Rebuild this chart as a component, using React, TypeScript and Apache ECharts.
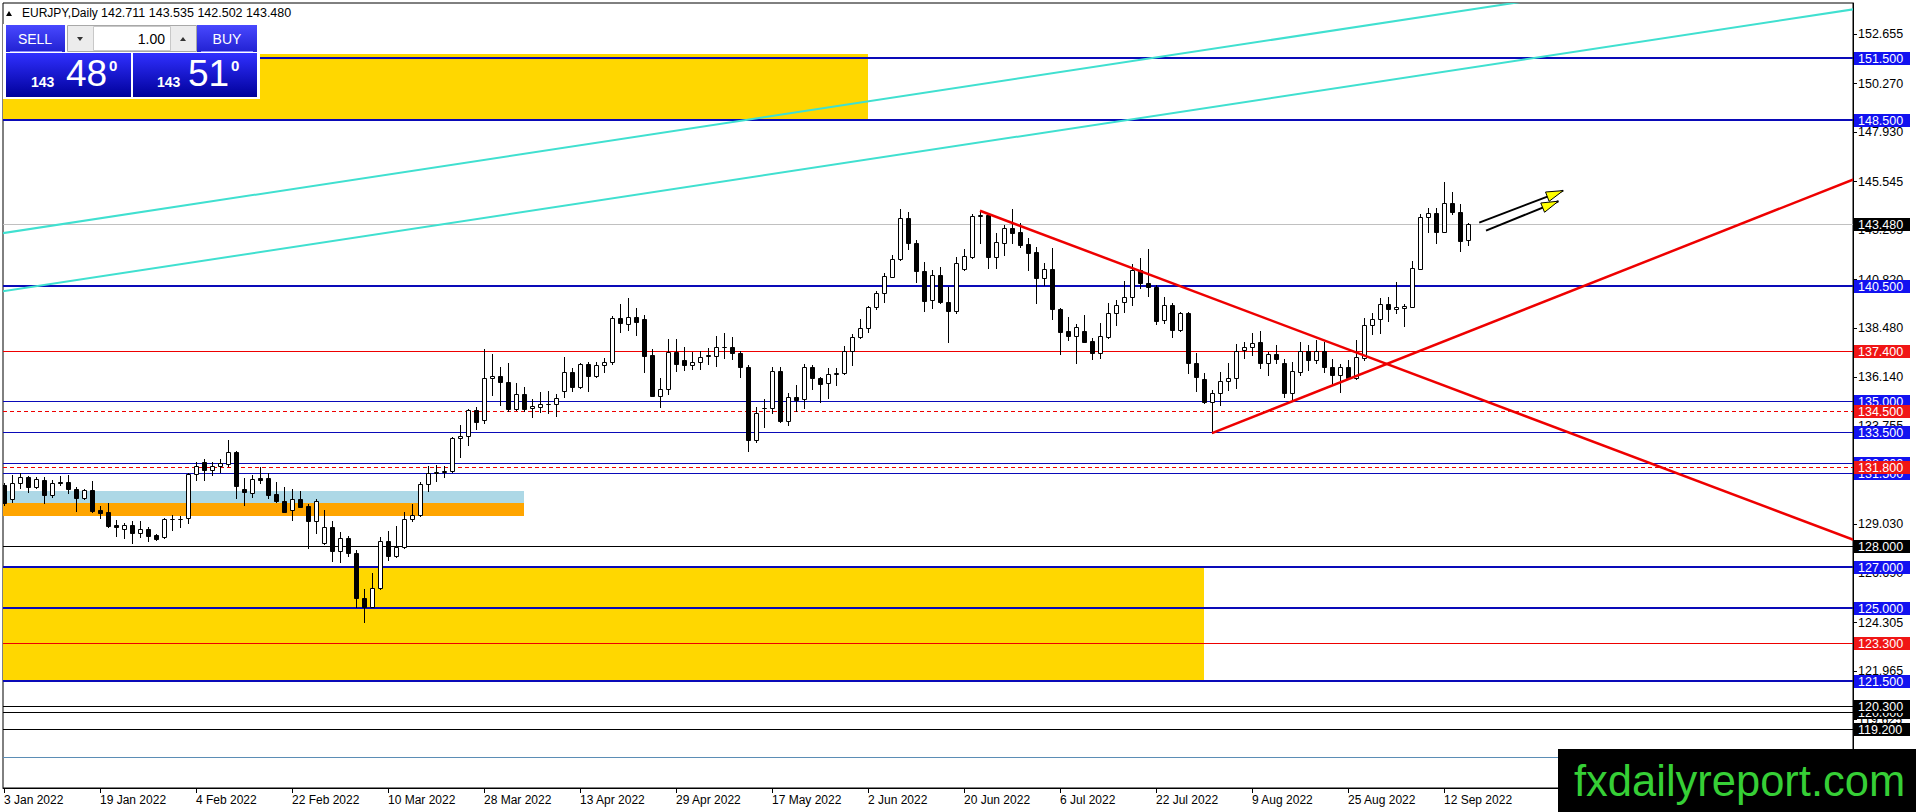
import React, { useEffect, useRef } from "react";
import * as echarts from "echarts";

// ---------- DATA ----------
const dateLabels = [
  "3 Jan 2022", "19 Jan 2022", "4 Feb 2022", "22 Feb 2022", "10 Mar 2022", "28 Mar 2022",
  "13 Apr 2022", "29 Apr 2022", "17 May 2022", "2 Jun 2022", "20 Jun 2022", "6 Jul 2022",
  "22 Jul 2022", "9 Aug 2022", "25 Aug 2022", "12 Sep 2022",
];
const LABEL_STEP = 12;
const dateTickIndexes = dateLabels.map((_, k) => k * LABEL_STEP);

const priceTicks = [
  152.655, 150.27, 147.93, 145.545, 143.205, 140.82, 138.48, 136.14, 133.755, 131.415,
  129.03, 126.69, 124.305, 121.965, 119.625,
];

const opens = [
  130.93, 130.24, 131.01, 131.30, 130.82, 131.17, 130.43, 131.09, 131.06, 130.74,
  130.29, 130.69, 129.73, 129.65, 129.00, 128.83, 128.99, 128.60, 128.80, 128.51,
  128.41, 129.28, 129.28, 129.33, 131.46, 132.05, 131.65, 131.85, 131.93, 132.54,
  130.74, 130.56, 131.28, 131.25, 130.50, 130.16, 129.73, 130.24, 129.92, 129.21,
  128.12, 128.92, 127.77, 128.36, 127.67, 125.47, 125.07, 125.95, 128.23, 127.53,
  127.93, 129.28, 129.47, 130.96, 131.49, 131.57, 131.60, 133.18, 133.29, 134.54,
  134.06, 136.07, 136.18, 135.88, 134.59, 135.30, 134.64, 134.70, 134.83, 134.83,
  135.47, 136.36, 135.67, 136.76, 136.20, 136.71, 136.84, 138.96, 138.68, 139.01,
  138.93, 137.19, 135.23, 135.54, 137.34, 136.95, 136.73, 136.84, 137.14, 137.14,
  137.56, 137.56, 137.27, 136.60, 133.10, 134.65, 134.62, 136.42, 134.03, 135.19,
  135.06, 136.63, 136.07, 135.83, 136.26, 136.31, 137.40, 138.04, 138.48, 139.49,
  140.20, 140.97, 141.80, 143.78, 142.57, 141.26, 139.84, 141.05, 139.73, 139.33,
  141.33, 141.93, 143.89, 143.94, 141.93, 142.60, 143.29, 143.10, 142.54, 142.17,
  140.92, 141.32, 139.39, 138.35, 138.13, 138.35, 137.87, 137.31, 138.08, 139.20,
  139.74, 140.00, 141.29, 140.68, 140.48, 138.88, 139.60, 138.40, 139.20, 136.82,
  136.02, 134.94, 135.35, 135.96, 136.07, 137.43, 137.56, 137.80, 136.82, 137.24,
  136.82, 135.38, 136.39, 137.39, 136.95, 137.39, 136.60, 136.23, 136.60, 136.07,
  137.03, 138.64, 138.91, 139.63, 139.41, 139.46, 139.52, 141.33, 143.82, 144.02,
  143.13, 144.50, 144.06, 142.711,
];
const highs = [
  131.05, 131.41, 131.52, 131.36, 131.33, 131.33, 131.17, 131.36, 131.41, 130.82,
  130.72, 131.14, 129.92, 130.08, 129.24, 129.08, 129.21, 129.21, 128.89, 128.57,
  129.33, 129.49, 129.44, 131.49, 132.05, 132.17, 132.05, 132.17, 133.10, 132.58,
  131.28, 131.41, 131.81, 131.49, 131.06, 130.82, 130.72, 130.64, 130.02, 130.24,
  129.73, 129.21, 128.68, 128.47, 127.80, 125.91, 126.68, 128.41, 128.71, 128.97,
  129.65, 130.02, 131.06, 131.85, 131.89, 131.85, 133.26, 133.82, 134.59, 134.70,
  137.47, 137.24, 136.63, 136.79, 135.83, 135.67, 135.06, 135.43, 135.46, 135.30,
  137.11, 136.55, 136.82, 136.87, 136.87, 137.03, 139.07, 139.65, 139.92, 139.44,
  139.12, 137.47, 136.07, 137.95, 137.95, 137.56, 137.35, 137.40, 137.51, 138.11,
  138.27, 138.04, 137.40, 136.71, 134.67, 135.06, 136.63, 136.63, 135.38, 135.75,
  136.76, 136.71, 136.15, 136.55, 136.55, 137.63, 138.20, 138.91, 139.55, 140.29,
  141.13, 142.01, 144.21, 144.10, 142.73, 141.69, 141.29, 141.42, 140.48, 141.93,
  142.28, 143.98, 144.15, 143.98, 143.05, 143.45, 144.21, 143.57, 142.81, 142.38,
  141.61, 142.33, 139.44, 139.04, 138.69, 139.12, 137.99, 138.72, 139.68, 139.84,
  140.77, 141.58, 141.85, 142.28, 140.56, 140.00, 139.68, 139.28, 139.28, 137.27,
  136.31, 135.51, 136.39, 136.82, 137.72, 137.83, 138.24, 138.35, 137.35, 137.67,
  136.98, 136.87, 137.80, 137.67, 137.92, 137.83, 137.00, 136.74, 136.95, 137.92,
  138.96, 139.20, 139.92, 139.97, 140.69, 139.63, 141.74, 143.98, 144.26, 144.26,
  145.54, 145.06, 144.45, 143.535,
];
const lows = [
  129.95, 130.13, 130.77, 130.61, 130.77, 130.08, 130.37, 130.93, 130.56, 129.68,
  130.24, 129.65, 129.33, 128.92, 128.47, 128.36, 128.15, 128.44, 128.23, 128.28,
  128.39, 128.76, 128.92, 129.08, 131.17, 131.17, 131.41, 131.57, 131.85, 130.29,
  129.97, 130.37, 131.01, 130.29, 130.13, 129.61, 129.24, 129.85, 127.88, 128.63,
  128.09, 127.29, 127.24, 127.51, 125.07, 124.35, 125.04, 125.90, 127.32, 127.48,
  127.88, 129.21, 129.44, 130.64, 131.14, 131.33, 131.54, 132.26, 132.86, 133.63,
  133.93, 135.27, 134.78, 134.51, 134.54, 134.51, 134.22, 134.46, 134.38, 134.27,
  135.19, 135.46, 135.62, 135.47, 136.15, 136.39, 136.75, 138.32, 138.40, 138.16,
  136.39, 135.20, 134.70, 135.33, 136.44, 136.47, 136.52, 136.52, 136.76, 136.66,
  137.03, 136.98, 136.12, 132.58, 133.02, 133.71, 134.41, 133.98, 133.82, 134.50,
  134.62, 135.54, 134.95, 135.14, 135.75, 136.28, 136.71, 138.00, 138.32, 139.39,
  139.76, 140.93, 141.77, 142.28, 140.73, 139.33, 139.44, 139.68, 137.80, 139.20,
  141.29, 141.85, 142.60, 141.37, 141.37, 142.01, 142.60, 142.41, 141.29, 139.71,
  140.57, 138.91, 137.24, 137.92, 136.79, 137.80, 136.99, 137.07, 138.00, 138.64,
  139.28, 139.60, 140.40, 140.04, 138.69, 138.72, 138.08, 138.37, 136.31, 135.47,
  134.90, 133.43, 134.79, 135.51, 135.59, 137.03, 137.19, 136.55, 136.23, 136.79,
  135.19, 135.02, 136.23, 136.47, 136.79, 136.39, 135.75, 135.43, 136.05, 136.02,
  136.95, 138.20, 138.24, 138.85, 139.20, 138.60, 139.49, 141.32, 143.13, 142.57,
  143.10, 143.97, 142.22, 142.502,
];
const closes = [
  130.05, 131.01, 131.30, 130.82, 131.20, 130.45, 131.04, 131.01, 130.72, 130.29,
  130.69, 129.69, 129.60, 128.97, 128.89, 128.99, 128.60, 128.80, 128.47, 128.31,
  129.28, 129.30, 129.30, 131.44, 131.85, 131.65, 131.85, 131.97, 132.50, 130.90,
  130.58, 131.20, 131.17, 130.45, 130.16, 129.65, 130.24, 129.89, 129.21, 130.16,
  128.92, 127.77, 128.36, 127.67, 125.47, 125.07, 125.95, 128.23, 127.53, 127.93,
  129.28, 129.47, 130.96, 131.49, 131.57, 131.60, 133.18, 133.29, 134.54, 133.98,
  136.07, 136.18, 135.88, 134.59, 135.30, 134.59, 134.75, 134.83, 134.85, 135.11,
  136.36, 135.67, 136.76, 136.20, 136.71, 136.87, 138.96, 138.72, 139.01, 138.77,
  137.16, 135.23, 135.54, 137.34, 136.76, 136.73, 136.84, 137.08, 137.18, 137.56,
  137.57, 137.27, 136.60, 133.10, 134.41, 134.62, 136.42, 134.01, 135.19, 135.03,
  136.63, 136.07, 135.80, 136.26, 136.34, 137.40, 138.04, 138.48, 139.49, 140.16,
  141.00, 141.80, 143.78, 142.57, 141.26, 139.81, 141.05, 139.76, 139.33, 141.61,
  141.96, 143.89, 143.94, 141.93, 142.65, 143.29, 143.09, 142.49, 142.12, 140.92,
  141.32, 139.39, 138.32, 138.13, 138.56, 137.83, 137.31, 138.11, 139.20, 139.60,
  140.00, 141.29, 140.68, 140.45, 138.85, 139.60, 138.40, 139.20, 136.82, 136.15,
  134.94, 135.35, 135.96, 136.07, 137.40, 137.56, 137.79, 136.82, 137.24, 136.98,
  135.38, 136.42, 137.39, 136.95, 137.39, 136.63, 136.23, 136.60, 136.07, 137.08,
  138.64, 138.91, 139.63, 139.39, 139.52, 139.55, 141.37, 143.82, 144.02, 143.10,
  144.50, 144.06, 142.70, 143.48,
];

const bidPrice = 143.48;
const askPrice = 143.51;
const lotSize = 1.0;

const majorBlueLevels = [151.5, 148.5, 140.5, 127.0, 125.0, 121.5];
const minorBlueLevels = [135.0, 133.5, 132.0, 131.5];
const blackLevels = [128.0, 120.0, 120.3, 119.2];
const redLevels = [137.4, 123.3];
const redDashedLevels = [134.5, 131.8];
const untaggedLevels = [117.81];

// zones: bar index from/to, price low/high
const zoneFrom = [-2, -2, -2, -2];
const zoneTo = [108, 150, 65, 65];
const zoneLow = [148.58, 121.5, 130.08, 129.45];
const zoneHigh = [151.7, 127.0, 130.64, 130.08];

// trend lines: [bar1, price1, bar2, price2]
const cyanUpper = [0, 143.07, 180.75, 153.68];
const cyanLower = [0, 140.27, 231.1, 153.84];
const redFalling = [122, 144.14, 157, 139.06];
const redRising = [151, 133.43, 194.5, 140.06];
const arrowUpper = [184.4, 143.57, 194.9, 145.11];
const arrowLower = [185.25, 143.18, 194.3, 144.6];

// ---------- CONFIG ----------
const X_MIN = -0.125;
const X_MAX = 231.125;
const Y_MIN = 116.335;
const Y_MAX = 154.148;
const FONT = '"Liberation Sans", Arial, sans-serif';

const ZONE_COLORS = ["#FFD700", "#FFD700", "#ADD8E6", "#FFA500"];

type LevelKind = "blueMajor" | "blueMinor" | "black" | "red" | "redDash" | "steel" | "bid";
const LEVEL_STYLE: Record<LevelKind, { c: string; w: number; dash?: number[]; tag?: string }> = {
  blueMajor: { c: "#0A0AB8", w: 2, tag: "#1212F0" },
  blueMinor: { c: "#0A0AB8", w: 1, tag: "#1212F0" },
  black: { c: "#000000", w: 1, tag: "#000000" },
  red: { c: "#EE0000", w: 1, tag: "#F01515" },
  redDash: { c: "#EE0000", w: 1, dash: [4, 3], tag: "#F01515" },
  steel: { c: "#5B8DB5", w: 1 },
  bid: { c: "#C0C0C0", w: 1, tag: "#000000" },
};

const levelDefs: { p: number; k: LevelKind }[] = [
  ...untaggedLevels.map((p) => ({ p, k: "steel" as LevelKind })),
  ...majorBlueLevels.map((p) => ({ p, k: "blueMajor" as LevelKind })),
  ...minorBlueLevels.map((p) => ({ p, k: "blueMinor" as LevelKind })),
  ...blackLevels.map((p) => ({ p, k: "black" as LevelKind })),
  ...redLevels.map((p) => ({ p, k: "red" as LevelKind })),
  ...redDashedLevels.map((p) => ({ p, k: "redDash" as LevelKind })),
  { p: bidPrice, k: "bid" as LevelKind },
];
const taggedLevels = levelDefs.filter((l) => LEVEL_STYLE[l.k].tag);

const trendDefs = [
  { seg: cyanUpper, color: "#40E0D0", w: 2, left: true, right: true, arrow: false },
  { seg: cyanLower, color: "#40E0D0", w: 2, left: true, right: true, arrow: false },
  { seg: redFalling, color: "#EE0000", w: 2.5, left: false, right: true, arrow: false },
  { seg: redRising, color: "#EE0000", w: 2.5, left: false, right: true, arrow: false },
  { seg: arrowUpper, color: "#000000", w: 2, left: false, right: false, arrow: true },
  { seg: arrowLower, color: "#000000", w: 2, left: false, right: false, arrow: true },
];

function splitPrice(p: number) {
  const s = p.toFixed(3);
  const [intPart, frac] = s.split(".");
  return { big: intPart, mid: frac.slice(0, 2), sup: frac.slice(2) };
}

function buildOption() {
  const candleData = opens.map((o, i) => [i, o, highs[i], lows[i], closes[i]]);
  const bid = splitPrice(bidPrice);
  const ask = splitPrice(askPrice);
  const hdrGrad = {
    type: "linear", x: 0, y: 0, x2: 0, y2: 1,
    colorStops: [{ offset: 0, color: "#4848FF" }, { offset: 1, color: "#2222D2" }],
  };
  const boxGrad = {
    type: "linear", x: 0, y: 0, x2: 0, y2: 1,
    colorStops: [{ offset: 0, color: "#3030FF" }, { offset: 1, color: "#00009A" }],
  };
  const Z = 100;

  return {
    animation: false,
    backgroundColor: "#ffffff",
    grid: {
      left: 3, right: 63, top: 3, bottom: 24,
      show: true, borderColor: "#000", borderWidth: 1, backgroundColor: "#fff",
    },
    xAxis: {
      type: "value",
      min: X_MIN,
      max: X_MAX,
      axisLine: { show: true, onZero: false, lineStyle: { color: "#000", width: 1 } },
      axisTick: { show: true, length: 5, customValues: dateTickIndexes, lineStyle: { color: "#000" } },
      axisLabel: {
        customValues: dateTickIndexes,
        formatter: (v: number) => dateLabels[Math.round(v / LABEL_STEP)] ?? "",
        align: "left",
        margin: 6,
        color: "#000",
        fontSize: 12,
        fontFamily: FONT,
      },
      splitLine: { show: false },
    },
    yAxis: {
      type: "value",
      position: "right",
      min: Y_MIN,
      max: Y_MAX,
      axisLine: { show: true, onZero: false, lineStyle: { color: "#000", width: 1 } },
      axisTick: { show: true, length: 4, customValues: priceTicks, lineStyle: { color: "#000" } },
      axisLabel: {
        customValues: priceTicks,
        formatter: (v: number) => v.toFixed(3),
        margin: 5,
        color: "#000",
        fontSize: 12.5,
        fontFamily: FONT,
      },
      splitLine: { show: false },
    },
    series: [
      {
        type: "custom",
        name: "zones",
        z: 1,
        clip: true,
        silent: true,
        data: zoneFrom.map((f, i) => [f, zoneTo[i], zoneLow[i], zoneHigh[i]]),
        renderItem: (params: any, api: any) => {
          const p0 = api.coord([api.value(0), api.value(3)]);
          const p1 = api.coord([api.value(1), api.value(2)]);
          return {
            type: "rect",
            shape: { x: p0[0], y: Math.round(p0[1]), width: p1[0] - p0[0], height: Math.round(p1[1]) - Math.round(p0[1]) },
            style: { fill: ZONE_COLORS[params.dataIndex] },
          };
        },
      },
      {
        type: "custom",
        name: "levels",
        z: 2,
        clip: true,
        silent: true,
        data: levelDefs.map((l) => [0, l.p]),
        renderItem: (params: any, api: any) => {
          const L = levelDefs[params.dataIndex];
          const st = LEVEL_STYLE[L.k];
          const cs = params.coordSys;
          const y = api.coord([0, L.p])[1];
          const yy = st.w % 2 === 1 ? Math.round(y) + 0.5 : Math.round(y);
          return {
            type: "line",
            shape: { x1: cs.x, y1: yy, x2: cs.x + cs.width, y2: yy },
            style: { stroke: st.c, lineWidth: st.w, lineDash: st.dash || null },
          };
        },
      },
      {
        type: "custom",
        name: "EURJPY",
        z: 3,
        clip: true,
        silent: true,
        data: candleData,
        renderItem: (params: any, api: any) => {
          const i = api.value(0);
          const o = api.value(1);
          const h = api.value(2);
          const l = api.value(3);
          const c = api.value(4);
          const pO = api.coord([i, o]);
          const pC = api.coord([i, c]);
          const pH = api.coord([i, h]);
          const pL = api.coord([i, l]);
          const cx = Math.round(pO[0]) + 0.5;
          const top = Math.round(Math.min(pO[1], pC[1])) + 0.5;
          const bot = Math.round(Math.max(pO[1], pC[1])) + 0.5;
          const bull = c >= o;
          return {
            type: "group",
            children: [
              {
                type: "line",
                shape: { x1: cx, y1: Math.round(pH[1]), x2: cx, y2: Math.round(pL[1]) + 1 },
                style: { stroke: "#000", lineWidth: 1 },
              },
              {
                type: "rect",
                shape: { x: cx - 2, y: top, width: 4, height: Math.max(bot - top, 0) },
                style: { fill: bull ? "#fff" : "#000", stroke: "#000", lineWidth: 1 },
              },
            ],
          };
        },
      },
      {
        type: "custom",
        name: "trendlines",
        z: 4,
        clip: true,
        silent: true,
        data: trendDefs.map((_, i) => [i]),
        renderItem: (params: any, api: any) => {
          const d = trendDefs[params.dataIndex];
          const [x1, p1, x2, p2] = d.seg;
          const m = (p2 - p1) / (x2 - x1);
          const xa = d.left ? X_MIN - 2 : x1;
          const xb = d.right ? X_MAX + 2 : x2;
          const A = api.coord([xa, p1 + m * (xa - x1)]);
          const B = api.coord([xb, p1 + m * (xb - x1)]);
          const children: any[] = [
            {
              type: "line",
              shape: { x1: A[0], y1: A[1], x2: B[0], y2: B[1] },
              style: { stroke: d.color, lineWidth: d.w },
            },
          ];
          if (d.arrow) {
            const dx = B[0] - A[0];
            const dy = B[1] - A[1];
            const len = Math.hypot(dx, dy);
            const ux = dx / len;
            const uy = dy / len;
            const nx = -uy;
            const ny = ux;
            const bx = B[0] - ux * 17;
            const by = B[1] - uy * 17;
            children.push({
              type: "polygon",
              shape: { points: [[B[0], B[1]], [bx + nx * 5, by + ny * 5], [bx - nx * 5, by - ny * 5]] },
              style: { fill: "#FFFF00", stroke: "#000", lineWidth: 1 },
            });
          }
          return { type: "group", children };
        },
      },
      {
        type: "custom",
        name: "tags",
        z: 5,
        clip: false,
        silent: true,
        data: taggedLevels.map((l) => [0, l.p]),
        renderItem: (params: any, api: any) => {
          const L = taggedLevels[params.dataIndex];
          const st = LEVEL_STYLE[L.k];
          const cs = params.coordSys;
          const y = Math.round(api.coord([0, L.p])[1]);
          const x = cs.x + cs.width + 1;
          return {
            type: "group",
            children: [
              { type: "rect", shape: { x, y: y - 6, width: 56, height: 13 }, style: { fill: st.tag } },
              {
                type: "text",
                x: x + 4,
                y: y + 1,
                style: {
                  text: L.p.toFixed(3),
                  fill: "#fff",
                  font: `12.5px ${FONT}`,
                  align: "left",
                  verticalAlign: "middle",
                  textAlign: "left",
                  textVerticalAlign: "middle",
                },
              },
            ],
          };
        },
      },
    ],
    graphic: [
      // header
      { type: "polygon", z: Z, shape: { points: [[6, 16], [9, 11], [12, 16]] }, style: { fill: "#000" } },
      {
        type: "text", z: Z, x: 22, y: 13,
        style: { text: "EURJPY,Daily", fill: "#000", font: `12px ${FONT}`, textVerticalAlign: "middle", verticalAlign: "middle" },
      },
      {
        type: "text", z: Z, x: 101, y: 13,
        style: {
          text: `${opens[183].toFixed(3)} ${highs[183].toFixed(3)} ${lows[183].toFixed(3)} ${closes[183].toFixed(3)}`,
          fill: "#000", font: `12.5px ${FONT}`, textVerticalAlign: "middle", verticalAlign: "middle",
        },
      },
      // panel background
      { type: "rect", z: Z, shape: { x: 3, y: 24, width: 257, height: 75 }, style: { fill: "#fff" } },
      // SELL header
      { type: "rect", z: Z, shape: { x: 6, y: 25, width: 59, height: 27 }, style: { fill: hdrGrad } },
      { type: "line", z: Z, shape: { x1: 10, y1: 51.5, x2: 62, y2: 51.5 }, style: { stroke: "#8C8CFF", lineWidth: 1 } },
      {
        type: "text", z: Z, x: 35, y: 39,
        style: { text: "SELL", fill: "#fff", font: `14px ${FONT}`, textAlign: "center", align: "center", textVerticalAlign: "middle", verticalAlign: "middle" },
      },
      // BUY header
      { type: "rect", z: Z, shape: { x: 197, y: 25, width: 60, height: 27 }, style: { fill: hdrGrad } },
      { type: "line", z: Z, shape: { x1: 201, y1: 51.5, x2: 253, y2: 51.5 }, style: { stroke: "#8C8CFF", lineWidth: 1 } },
      {
        type: "text", z: Z, x: 227, y: 39,
        style: { text: "BUY", fill: "#fff", font: `14px ${FONT}`, textAlign: "center", align: "center", textVerticalAlign: "middle", verticalAlign: "middle" },
      },
      // lot control
      { type: "rect", z: Z, shape: { x: 67.5, y: 25.5, width: 129, height: 26 }, style: { fill: "#ECECEC", stroke: "#A8A8A8", lineWidth: 1 } },
      { type: "rect", z: Z, shape: { x: 93.5, y: 26.5, width: 77, height: 24 }, style: { fill: "#fff", stroke: "#C8C8C8", lineWidth: 1 } },
      { type: "polygon", z: Z, shape: { points: [[77, 37], [83, 37], [80, 41]] }, style: { fill: "#333" } },
      { type: "polygon", z: Z, shape: { points: [[180, 41], [186, 41], [183, 37]] }, style: { fill: "#333" } },
      {
        type: "text", z: Z, x: 165, y: 39,
        style: { text: lotSize.toFixed(2), fill: "#000", font: `14px ${FONT}`, textAlign: "right", align: "right", textVerticalAlign: "middle", verticalAlign: "middle" },
      },
      // price boxes
      { type: "rect", z: Z, shape: { x: 6, y: 53, width: 125, height: 44 }, style: { fill: boxGrad } },
      { type: "rect", z: Z, shape: { x: 133, y: 53, width: 124, height: 44 }, style: { fill: boxGrad } },
      {
        type: "text", z: Z, x: 31, y: 89,
        style: { text: bid.big, fill: "#fff", font: `bold 14px ${FONT}`, textVerticalAlign: "bottom", verticalAlign: "bottom" },
      },
      {
        type: "text", z: Z, x: 66, y: 92,
        style: { text: bid.mid, fill: "#fff", font: `37px ${FONT}`, textVerticalAlign: "bottom", verticalAlign: "bottom" },
      },
      {
        type: "text", z: Z, x: 109, y: 58,
        style: { text: bid.sup, fill: "#fff", font: `bold 15px ${FONT}`, textVerticalAlign: "top", verticalAlign: "top" },
      },
      {
        type: "text", z: Z, x: 157, y: 89,
        style: { text: ask.big, fill: "#fff", font: `bold 14px ${FONT}`, textVerticalAlign: "bottom", verticalAlign: "bottom" },
      },
      {
        type: "text", z: Z, x: 188, y: 92,
        style: { text: ask.mid, fill: "#fff", font: `37px ${FONT}`, textVerticalAlign: "bottom", verticalAlign: "bottom" },
      },
      {
        type: "text", z: Z, x: 231, y: 58,
        style: { text: ask.sup, fill: "#fff", font: `bold 15px ${FONT}`, textVerticalAlign: "top", verticalAlign: "top" },
      },
      // watermark
      { type: "rect", z: Z, shape: { x: 1558, y: 749, width: 358, height: 63 }, style: { fill: "#000" } },
      {
        type: "text", z: Z, x: 1574, y: 781,
        style: { text: "fxdailyreport.com", fill: "#36CF36", font: `43.5px ${FONT}`, textVerticalAlign: "middle", verticalAlign: "middle" },
      },
    ],
  };
}

export default function App() {
  const ref = useRef<HTMLDivElement>(null);
  useEffect(() => {
    document.body.style.margin = "0";
    if (!ref.current) return;
    const chart = echarts.init(ref.current, null, { renderer: "svg" });
    chart.setOption(buildOption() as any);
    return () => chart.dispose();
  }, []);
  return (
    <div
      ref={ref}
      style={{ position: "fixed", left: 0, top: 0, width: 1916, height: 812, background: "#fff" }}
    />
  );
}
